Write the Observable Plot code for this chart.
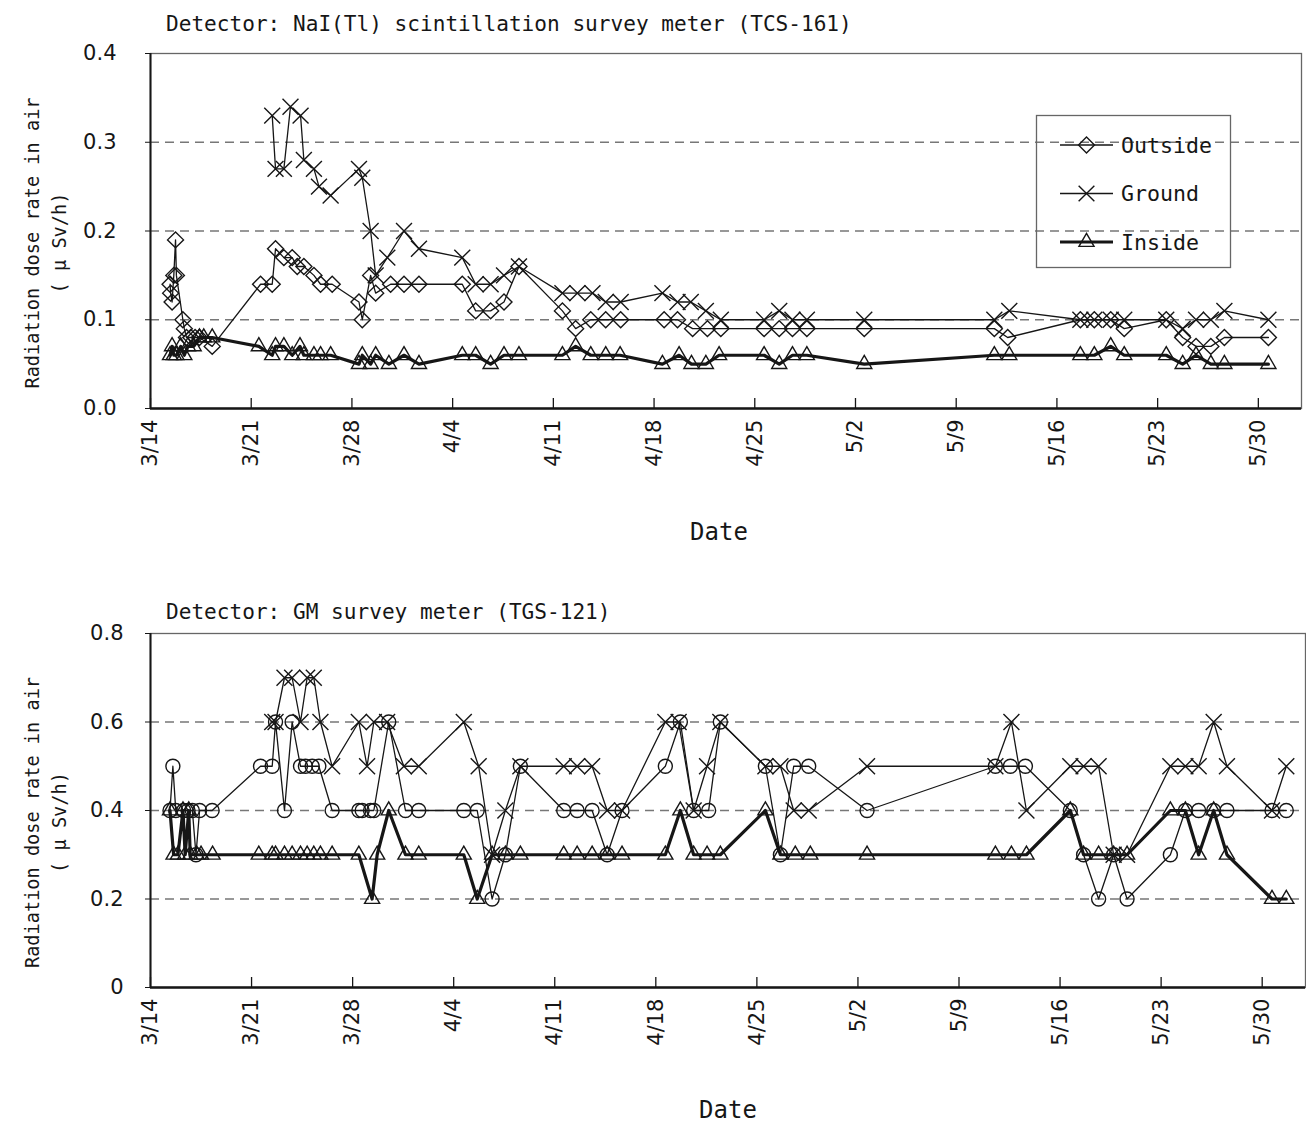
<!DOCTYPE html>
<html><head><meta charset="utf-8">
<script src="https://cdn.jsdelivr.net/npm/d3@7"></script>
<script src="https://cdn.jsdelivr.net/npm/@observablehq/plot@0.6"></script>
<style>
body{margin:0;background:#fff;}
#page{position:relative;width:1306px;height:1122px;font-family:"DejaVu Sans Mono",monospace;color:#161616;overflow:hidden;background:#fff;}
.title{position:absolute;left:166px;font-size:21.1px;white-space:nowrap;line-height:1;z-index:5;}
.panel{position:absolute;left:0;z-index:1;}
#legend{position:absolute;left:0;top:0;z-index:4;}
</style></head><body><div id="page">
<div class="panel" id="p1" style="top:0"></div>
<div class="panel" id="p2" style="top:560px"></div>
<div class="title" id="t1" style="top:13px"></div>
<div class="title" id="t2" style="top:601px"></div>
<svg id="legend" width="1306" height="300"></svg>
</div>
<script>
// ---------- data (day offset from 3/14 00:00, value in µSv/h) ----------
const titles = ["Detector: NaI(Tl) scintillation survey meter (TCS-161)", "Detector: GM survey meter (TGS-121)"];
const seriesNames = ["Outside", "Ground", "Inside"];
const yTitle = "Radiation dose rate in air\n( \u03bc Sv/h)";
const xTitle = "Date";

const naiOutside = [
[1.36,0.14],[1.40,0.13],[1.50,0.12],[1.62,0.15],[1.74,0.19],[1.80,0.15],[2.25,0.10],[2.35,0.09],[2.50,0.08],[2.80,0.08],[3.10,0.08],[3.40,0.08],[4.29,0.07],
[7.65,0.14],[8.46,0.14],[8.69,0.18],[9.27,0.17],[9.85,0.17],[10.20,0.16],[10.66,0.16],[11.36,0.15],[11.82,0.14],[12.63,0.14],
[14.49,0.12],[14.72,0.10],[15.30,0.15],[15.65,0.13],[16.69,0.14],[17.62,0.14],[18.66,0.14],
[21.67,0.14],[22.60,0.11],[23.64,0.11],[24.57,0.12],[25.61,0.16],
[28.63,0.11],[29.55,0.09],[30.60,0.10],[31.64,0.10],[32.68,0.10],
[35.70,0.10],[36.63,0.10],[37.68,0.09],[38.71,0.09],[39.64,0.09],
[42.65,0.09],[43.70,0.09],[44.62,0.09],[45.62,0.09],[49.61,0.09],
[58.65,0.09],[59.58,0.08],
[64.63,0.10],[65.60,0.10],[66.74,0.10],[67.68,0.09],
[70.60,0.10],[71.74,0.08],[72.67,0.07],[73.70,0.07],[74.64,0.08],[77.70,0.08]
];
const naiGround = [
[8.46,0.33],[8.69,0.27],[9.27,0.27],[9.73,0.34],[10.43,0.33],[10.66,0.28],[11.36,0.27],[11.71,0.25],[12.52,0.24],
[14.49,0.27],[14.72,0.26],[15.30,0.20],[15.65,0.15],[16.46,0.17],[17.62,0.20],[18.66,0.18],
[21.67,0.17],[22.60,0.14],[23.64,0.14],[24.57,0.15],[25.61,0.16],
[28.63,0.13],[29.67,0.13],[30.72,0.13],[31.64,0.12],[32.68,0.12],
[35.58,0.13],[36.63,0.12],[37.55,0.12],[38.60,0.11],[39.64,0.10],
[42.65,0.10],[43.70,0.11],[44.62,0.10],[45.62,0.10],[49.61,0.10],
[58.65,0.10],[59.69,0.11],
[64.63,0.10],[65.60,0.10],[66.74,0.10],[67.68,0.10],
[70.60,0.10],[71.74,0.09],[72.67,0.10],[73.70,0.10],[74.64,0.11],[77.70,0.10]
];
const naiInside = [
[1.36,0.06],[1.50,0.07],[1.62,0.06],[1.80,0.06],[2.10,0.07],[2.35,0.06],[2.60,0.07],[3.00,0.07],[3.40,0.08],[3.70,0.08],[4.29,0.08],
[7.53,0.07],[8.46,0.06],[8.69,0.07],[9.27,0.07],[9.85,0.06],[10.39,0.07],[10.66,0.06],[11.36,0.06],[11.82,0.06],[12.52,0.06],
[14.49,0.05],[14.72,0.06],[15.30,0.05],[15.65,0.06],[16.57,0.05],[17.62,0.06],[18.66,0.05],
[21.67,0.06],[22.60,0.06],[23.64,0.05],[24.57,0.06],[25.61,0.06],
[28.63,0.06],[29.55,0.07],[30.60,0.06],[31.64,0.06],[32.64,0.06],
[35.58,0.05],[36.74,0.06],[37.60,0.05],[38.60,0.05],[39.52,0.06],
[42.65,0.06],[43.70,0.05],[44.62,0.06],[45.62,0.06],[49.61,0.05],
[58.65,0.06],[59.69,0.06],
[64.63,0.06],[65.60,0.06],[66.74,0.07],[67.68,0.06],
[70.60,0.06],[71.74,0.05],[72.67,0.06],[73.70,0.05],[74.64,0.05],[77.70,0.05]
];

const gmOutside = [
[1.35,0.4],[1.55,0.5],[1.75,0.4],[2.30,0.4],[2.60,0.4],[2.90,0.4],[3.15,0.3],[3.40,0.4],[4.27,0.4],
[7.62,0.5],[8.43,0.5],[8.66,0.6],[9.28,0.4],[9.81,0.6],[10.39,0.5],[10.73,0.5],[11.20,0.5],[11.66,0.5],[12.58,0.4],
[14.43,0.4],[14.66,0.4],[15.24,0.4],[15.47,0.4],[16.50,0.6],[17.66,0.4],[18.58,0.4],
[21.70,0.4],[22.63,0.4],[23.66,0.2],[24.58,0.3],[25.62,0.5],
[28.62,0.4],[29.55,0.4],[30.59,0.4],[31.63,0.3],[32.66,0.4],
[35.66,0.5],[36.70,0.6],[37.62,0.4],[38.66,0.4],[39.47,0.6],
[42.59,0.5],[43.63,0.3],[44.55,0.5],[45.59,0.5],[49.63,0.4],
[58.52,0.5],[59.56,0.5],[60.60,0.5],
[63.71,0.4],[64.63,0.3],[65.67,0.2],[66.71,0.3],[67.64,0.2],
[70.64,0.3],[71.68,0.4],[72.60,0.4],[73.64,0.4],[74.56,0.4],[77.68,0.4],[78.67,0.4]
];
const gmGround = [
[8.43,0.6],[8.66,0.6],[9.28,0.7],[9.81,0.7],[10.39,0.6],[10.85,0.7],[11.31,0.7],[11.77,0.6],[12.58,0.5],
[14.43,0.6],[15.00,0.5],[15.47,0.6],[16.39,0.6],[17.55,0.5],[18.58,0.5],
[21.70,0.6],[22.73,0.5],[23.66,0.3],[24.58,0.4],[25.62,0.5],
[28.62,0.5],[29.55,0.5],[30.59,0.5],[31.63,0.4],[32.66,0.4],
[35.66,0.6],[36.58,0.6],[37.62,0.4],[38.55,0.5],[39.47,0.6],
[42.59,0.5],[43.63,0.5],[44.55,0.4],[45.59,0.4],[49.63,0.5],
[58.52,0.5],[59.63,0.6],[60.67,0.4],
[63.71,0.5],[64.63,0.5],[65.67,0.5],[66.71,0.3],[67.64,0.3],
[70.64,0.5],[71.68,0.5],[72.60,0.5],[73.64,0.6],[74.56,0.5],[77.68,0.4],[78.67,0.5]
];
const gmInside = [
[1.35,0.4],[1.60,0.3],[1.90,0.3],[2.25,0.4],[2.40,0.3],[2.65,0.4],[2.75,0.3],[3.20,0.3],[3.50,0.3],[4.30,0.3],
[7.50,0.3],[8.43,0.3],[8.66,0.3],[9.28,0.3],[9.81,0.3],[10.39,0.3],[10.85,0.3],[11.31,0.3],[11.77,0.3],[12.58,0.3],
[14.43,0.3],[15.35,0.2],[15.70,0.3],[16.50,0.4],[17.66,0.3],[18.58,0.3],
[21.70,0.3],[22.63,0.2],[23.66,0.3],[24.58,0.3],[25.62,0.3],
[28.62,0.3],[29.55,0.3],[30.59,0.3],[31.63,0.3],[32.66,0.3],
[35.66,0.3],[36.70,0.4],[37.62,0.3],[38.55,0.3],[39.47,0.3],
[42.59,0.4],[43.63,0.3],[44.66,0.3],[45.70,0.3],[49.63,0.3],
[58.52,0.3],[59.63,0.3],[60.67,0.3],
[63.71,0.4],[64.63,0.3],[65.67,0.3],[66.71,0.3],[67.64,0.3],
[70.64,0.4],[71.68,0.4],[72.60,0.3],[73.64,0.4],[74.56,0.3],[77.68,0.2],[78.67,0.2]
];

const naiYTicks = [0, 0.1, 0.2, 0.3, 0.4];
const gmYTicks = [0, 0.2, 0.4, 0.6, 0.8];
const startDate = "2011-03-14", endDate = "2011-06-02";

// ---------- helpers ----------
const t0 = new Date(startDate + "T00:00Z");
const t1 = new Date(endDate + "T00:00Z");
const toRows = (arr) => arr.map(([d, v]) => ({date: new Date(+t0 + d * 864e5), value: v}));
const weekTicks = d3.utcDay.range(t0, t1, 7);
const fmtDate = d3.utcFormat("%-m/%-d");
const FONT = '"DejaVu Sans Mono", monospace';
const TICKFONT = '"DejaVu Sans", sans-serif';
const INK = "#161616";

function panel({series, yTicks, yFmt, height, marginTop, marginBottom, marginRight, labelPad, dateDy, dateDx, titleDy, outsideSymbol}) {
  const plotH = height - marginTop - marginBottom;
  const yMax = yTicks[yTicks.length - 1];
  const grid = yTicks.slice(1, -1);
  const [o, g, i] = series.map(toRows);
  return Plot.plot({
    width: 1306, height, marginLeft: 150, marginRight, marginTop, marginBottom,
    style: {fontFamily: FONT, fontSize: "18px", color: INK, background: "transparent", overflow: "visible"},
    x: {type: "utc", domain: [t0, t1]},
    y: {domain: [0, yMax]},
    marks: [
      Plot.ruleY(grid, {stroke: "#777", strokeWidth: 1.3, strokeDasharray: "9,6"}),
      Plot.frame({stroke: "#666", strokeWidth: 1.3}),
      Plot.axisY({ticks: yTicks, tickFormat: yFmt, tickSize: 5, tickPadding: labelPad, label: null, stroke: INK, fontSize: 21, fontFamily: TICKFONT}),
      Plot.axisX({ticks: weekTicks, tickFormat: fmtDate, tickRotate: -90, tickSize: 0, tickPadding: 11, label: null, fontSize: 21, fontFamily: TICKFONT}),
      Plot.ruleX(weekTicks, {insetTop: plotH - 10, stroke: INK, strokeWidth: 1.3}),
      Plot.ruleX([t0], {stroke: INK, strokeWidth: 2}),
      Plot.ruleY([0], {stroke: INK, strokeWidth: 2.5}),
      Plot.line(o, {x: "date", y: "value", stroke: INK, strokeWidth: 1.3}),
      Plot.dot(o, {x: "date", y: "value", symbol: outsideSymbol, r: outsideSymbol === "circle" ? 7 : 7.2, stroke: INK, fill: "none", strokeWidth: 1.4}),
      Plot.line(g, {x: "date", y: "value", stroke: INK, strokeWidth: 1.3}),
      Plot.dot(g, {x: "date", y: "value", symbol: "times", r: 7.3, stroke: INK, strokeWidth: 1.4}),
      Plot.line(i, {x: "date", y: "value", stroke: INK, strokeWidth: 3.2}),
      Plot.dot(i, {x: "date", y: "value", symbol: "triangle2", r: 7.2, stroke: INK, fill: "none", strokeWidth: 1.4}),
      Plot.text([yTitle], {frameAnchor: "left", textAnchor: "middle", rotate: -90, dx: -107, dy: titleDy, lineHeight: 1.45, fontSize: 18.6, fill: INK}),
      Plot.text([xTitle], {frameAnchor: "bottom", dx: dateDx, dy: dateDy, fontSize: 24, fill: INK})
    ]
  });
}

document.getElementById("t1").textContent = titles[0];
document.getElementById("t2").textContent = titles[1];

document.getElementById("p1").append(panel({
  series: [naiOutside, naiGround, naiInside], yTicks: naiYTicks, yFmt: d3.format(".1f"),
  height: 560, marginTop: 53, marginBottom: 152, marginRight: 5, labelPad: 29, dateDy: 131, dateDx: -7, titleDy: 12,
  outsideSymbol: "diamond2"
}));
document.getElementById("p2").append(panel({
  series: [gmOutside, gmGround, gmInside], yTicks: gmYTicks, yFmt: d => d === 0 ? "0" : d.toFixed(1),
  height: 562, marginTop: 73, marginBottom: 135, marginRight: 1, labelPad: 22, dateDy: 130, dateDx: 0, titleDy: 12,
  outsideSymbol: "circle"
}));

// ---------- legend (top panel) ----------
const legendItems = [
  {name: seriesNames[0], symbol: d3.symbolDiamond2, width: 1.3},
  {name: seriesNames[1], symbol: d3.symbolTimes, width: 1.3},
  {name: seriesNames[2], symbol: d3.symbolTriangle2, width: 3.2}
];
const lg = d3.select("#legend");
lg.append("rect").attr("x", 1036.5).attr("y", 115.5).attr("width", 194).attr("height", 152)
  .attr("fill", "none").attr("stroke", "#666").attr("stroke-width", 1.3);
legendItems.forEach((it, k) => {
  const y = 145 + k * 48.5;
  const gg = lg.append("g").attr("transform", `translate(0,${y})`);
  gg.append("line").attr("x1", 1060).attr("x2", 1113).attr("stroke", INK).attr("stroke-width", it.width);
  gg.append("path").attr("transform", "translate(1086.5,0)").attr("d", d3.symbol(it.symbol, 7.2 * 7.2 * Math.PI)())
    .attr("fill", "none").attr("stroke", INK).attr("stroke-width", 1.4);
  gg.append("text").attr("x", 1121).attr("dy", "0.36em").attr("font-size", 21.6).attr("font-family", FONT)
    .attr("fill", INK).text(it.name);
});
</script>
</body></html>
